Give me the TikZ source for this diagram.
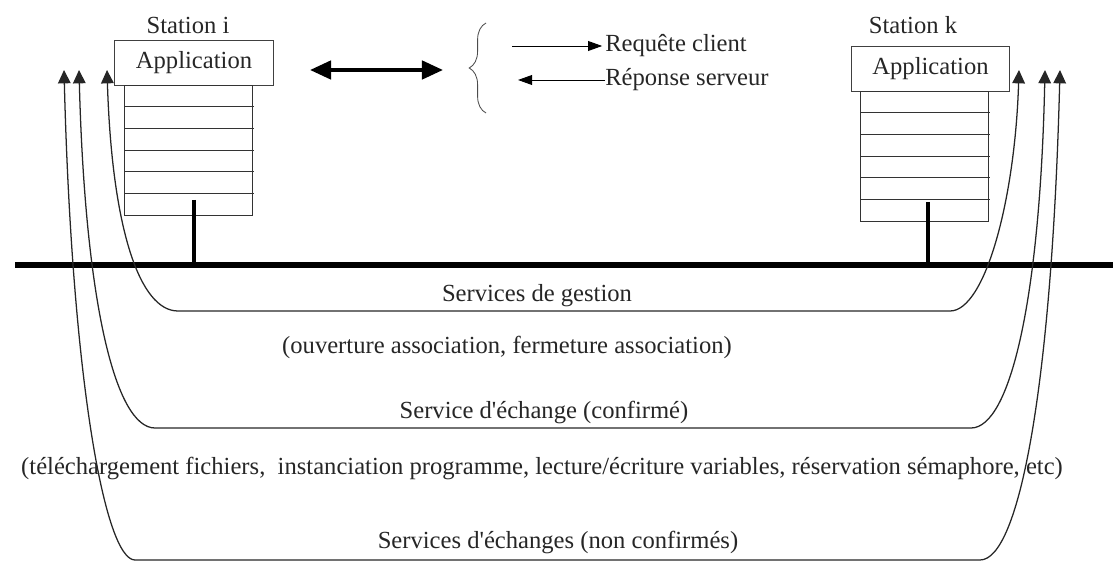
\documentclass[tikz,border=0pt]{standalone}
\usepackage{fontspec}
\setmainfont{Liberation Serif}
\usetikzlibrary{arrows.meta,decorations.pathreplacing,positioning}

\tikzset{
  txt/.style={font=\fontsize{17.5}{20}\selectfont, text=black!85, inner sep=0pt},
  appbox/.style={draw=black!75, line width=0.7pt, minimum width=3.95cm, minimum height=1.1cm, txt},
  stackbox/.style={draw=black!80, line width=0.7pt, minimum width=3.175cm, minimum height=3.25cm},
  bus/.style={line width=4pt},
  stem/.style={line width=2.2pt},
  service/.style={draw=black!85, line width=0.9pt, {Triangle[length=9.5pt,width=9pt]}-{Triangle[length=9.5pt,width=9pt]}},
  thinarrow/.style={line width=0.7pt, -{Triangle[length=10pt,width=7pt]}}
}

\begin{document}
\begin{tikzpicture}[x=0.025cm, y=-0.025cm]
  \useasboundingbox (0,0) rectangle (1113,563);

  % stations
  \node[appbox] (appi) at (194,63) {Application};
  \node[txt] (stai) at (188,25) {Station i};
  \node[stackbox, anchor=north] (stacki) at (188.5,85) {};
  \node[appbox] (appk) at (930.5,69) {Application};
  \node[txt] (stak) at (913,25) {Station k};
  \node[stackbox, anchor=north] (stackk) at (924.5,91) {};
  \foreach \s in {stacki,stackk}
    \foreach \r in {1,...,5}
      \draw[black!80, line width=0.7pt] ([yshift=-\r*0.5417cm]\s.north west) -- ([yshift=-\r*0.5417cm, xshift=1pt]\s.north east);

  % bus
  \coordinate (busl) at (15,265);
  \coordinate (busr) at (1113,265);
  \draw[bus] (busl) -- (busr);
  \coordinate (ti) at (194,200);
  \coordinate (tk) at (928,202);
  \draw[stem] (ti) -- (ti |- busl);
  \draw[stem] (tk) -- (tk |- busl);

  % dialogue
  \coordinate (dl) at (310,70);
  \coordinate (dr) at (443,70);
  \draw[line width=2.8pt, {Triangle[length=15pt,width=13pt]}-{Triangle[length=15pt,width=13pt]}] (dl) -- (dr);
  \coordinate (bb) at (486,113);
  \coordinate (bt) at (486,23);
  \draw[black!70, line width=0.6pt, decorate, decoration={brace, amplitude=0.42cm}] (bb) -- (bt);
  \node[txt, anchor=west] (req) at (605,46) {Requête client};
  \node[txt, anchor=west] (rep) at (605,80) {Réponse serveur};
  \coordinate (reqs) at (512,46);
  \coordinate (repe) at (518,80);
  \draw[thinarrow] (reqs) -- ([xshift=-2pt]req.west);
  \draw[thinarrow] (rep.west) -- (repe);

  % services
  \coordinate (gi) at (107,70);
  \coordinate (gk) at (1019,70);
  \coordinate (ei) at (79,70);
  \coordinate (ek) at (1045,70);
  \coordinate (ni) at (64,70);
  \coordinate (nk) at (1060,70);
  \draw[service] (gk) .. controls (1015,200) and (985,311) .. (950,311) -- (178,311) .. controls (140,311) and (112,230) .. (gi);
  \draw[service] (ek) .. controls (1040,300) and (1010,428) .. (971,428) -- (155,428) .. controls (115,428) and (85,300) .. (ei);
  \draw[service] (nk) .. controls (1052,380) and (1020,560) .. (980,560) -- (135,560) .. controls (105,560) and (72,380) .. (ni);

  \node[txt] (sgest) at (537,296) {Services de gestion};
  \node[txt] (dgest) at (507,347) {(ouverture association, fermeture association)};
  \node[txt] (sconf) at (544,412) {Service d\textquotesingle échange (confirmé)};
  \node[txt] (dconf) at (542,468) {(téléchargement fichiers,\ \ instanciation programme, lecture/écriture variables, réservation sémaphore, etc)};
  \node[txt] (snonc) at (558,542) {Services d\textquotesingle échanges (non confirmés)};
\end{tikzpicture}
\end{document}
